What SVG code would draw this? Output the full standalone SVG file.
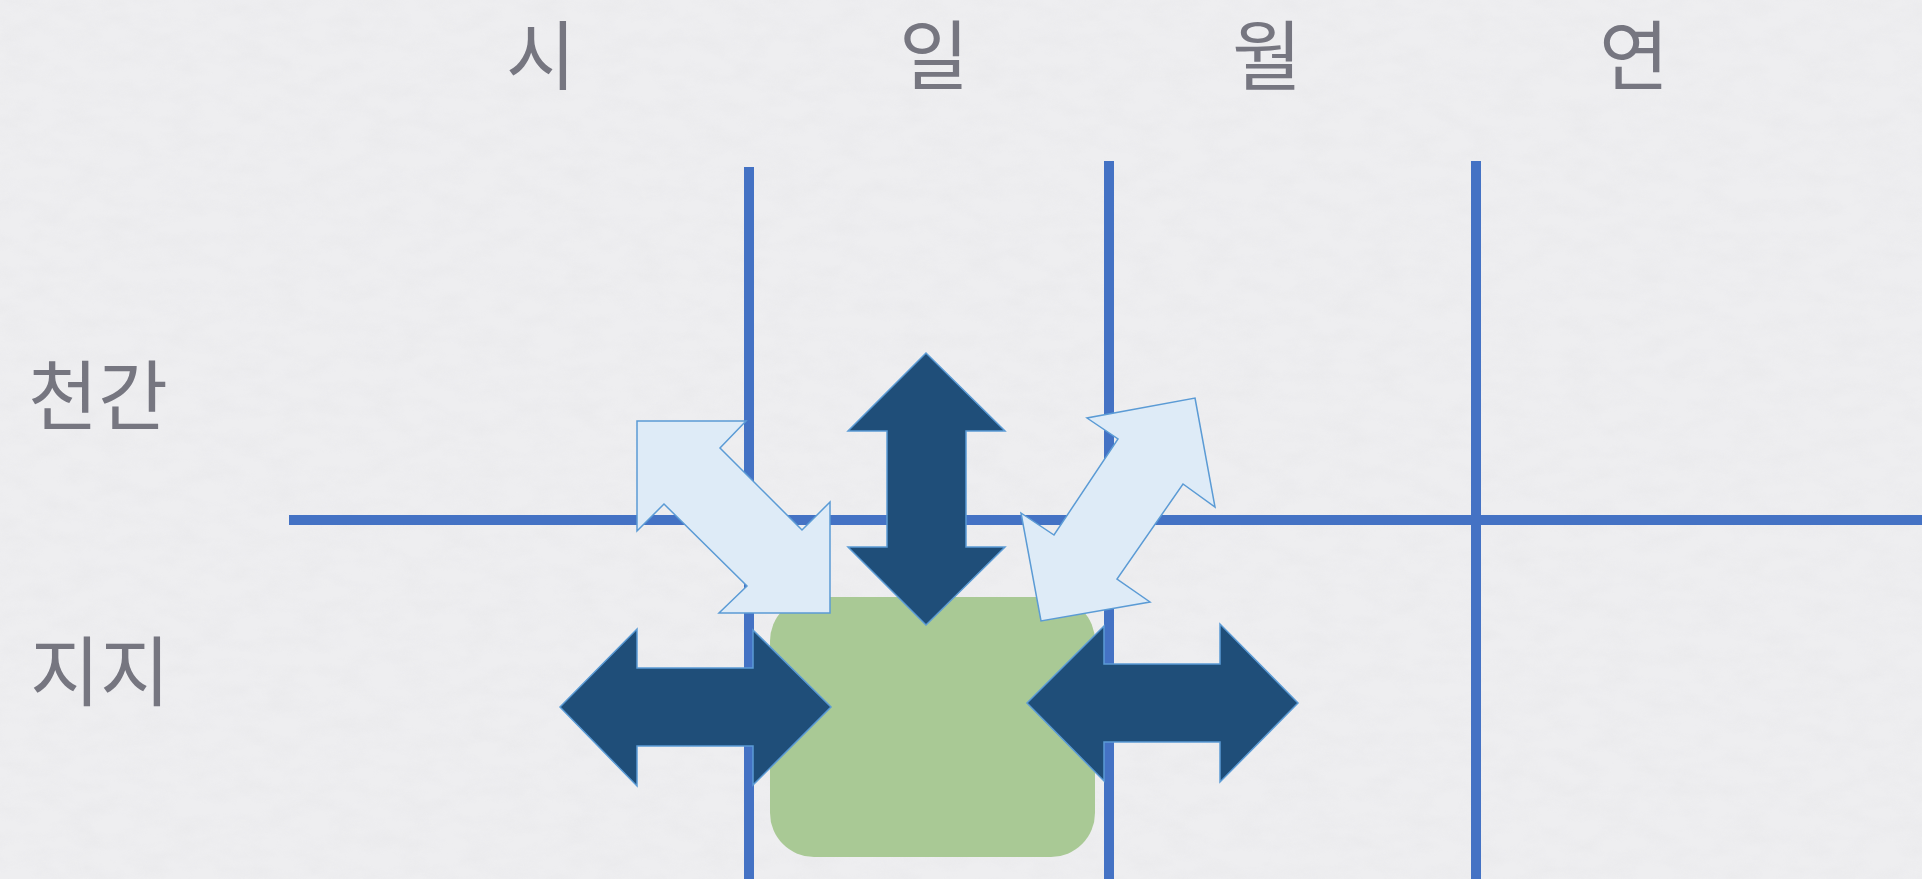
<svg xmlns="http://www.w3.org/2000/svg" width="1922" height="879" viewBox="0 0 1922 879">
<defs>
<filter id="paper" x="0" y="0" width="100%" height="100%">
<feTurbulence type="fractalNoise" baseFrequency="0.03 0.06" numOctaves="4" seed="7"/>
<feColorMatrix type="matrix" values="0 0 0 0 0.80  0 0 0 0 0.80  0 0 0 0 0.82  1.2 0 0 0 -0.42"/>
</filter>
<style>
.lbl{font-family:"Noto Sans CJK KR","Noto Sans",sans-serif;font-size:76px;fill:#767680;}
.grid{stroke:#4472c4;stroke-width:10;fill:none;}
.dark{fill:#1f4e79;stroke:#5b9bd5;stroke-width:1.5;stroke-linejoin:miter;}
.light{fill:#deebf7;stroke:#5b9bd5;stroke-width:1.5;stroke-linejoin:miter;}
</style>
</defs>
<rect width="1922" height="879" fill="#eeeef0"/>
<rect width="1922" height="879" filter="url(#paper)" opacity="0.7"/>

<g id="col-labels">
<text class="lbl" x="541" y="84" text-anchor="middle">시</text>
<text class="lbl" x="934" y="84" text-anchor="middle">일</text>
<text class="lbl" x="1267" y="84" text-anchor="middle">월</text>
<text class="lbl" x="1634" y="84" text-anchor="middle">연</text>
</g>
<g id="row-labels">
<text class="lbl" x="28" y="424">천간</text>
<text class="lbl" x="30" y="700">지지</text>
</g>

<g id="center-box">
<rect x="770" y="597" width="325" height="260" rx="44" ry="44" fill="#a9c995"/>
</g>

<g id="connectors">
<line class="grid" x1="289" y1="520" x2="1922" y2="520"/>
<line class="grid" x1="749" y1="167" x2="749" y2="879"/>
<line class="grid" x1="1109" y1="161" x2="1109" y2="879"/>
<line class="grid" x1="1476" y1="161" x2="1476" y2="879"/>
</g>

<g id="arrow-vertical">
<polygon class="dark" points="926,353 1005,431 966,431 966,547 1005,547 926,625 848,547 887,547 887,431 848,431"/>
</g>
<g id="arrow-left-diag">
<polygon class="light" points="637,421 746,421 720,448 802,530 830,502 830,613 719,613 747,586 664,504 637,531"/>
</g>
<g id="arrow-right-diag">
<polygon class="light" points="1195,398 1215,507 1183,484 1117,579 1150,602 1041,621 1021,513 1054,535 1118,439 1087,418"/>
</g>
<g id="arrow-left-horizontal">
<polygon class="dark" points="560,707 637,629 637,668 753,668 753,630 831,707 753,785 753,746 637,746 637,786"/>
</g>
<g id="arrow-right-horizontal">
<polygon class="dark" points="1027,703 1104,626 1104,664 1220,664 1220,624 1298,703 1220,782 1220,742 1104,742 1104,781"/>
</g>
</svg>
